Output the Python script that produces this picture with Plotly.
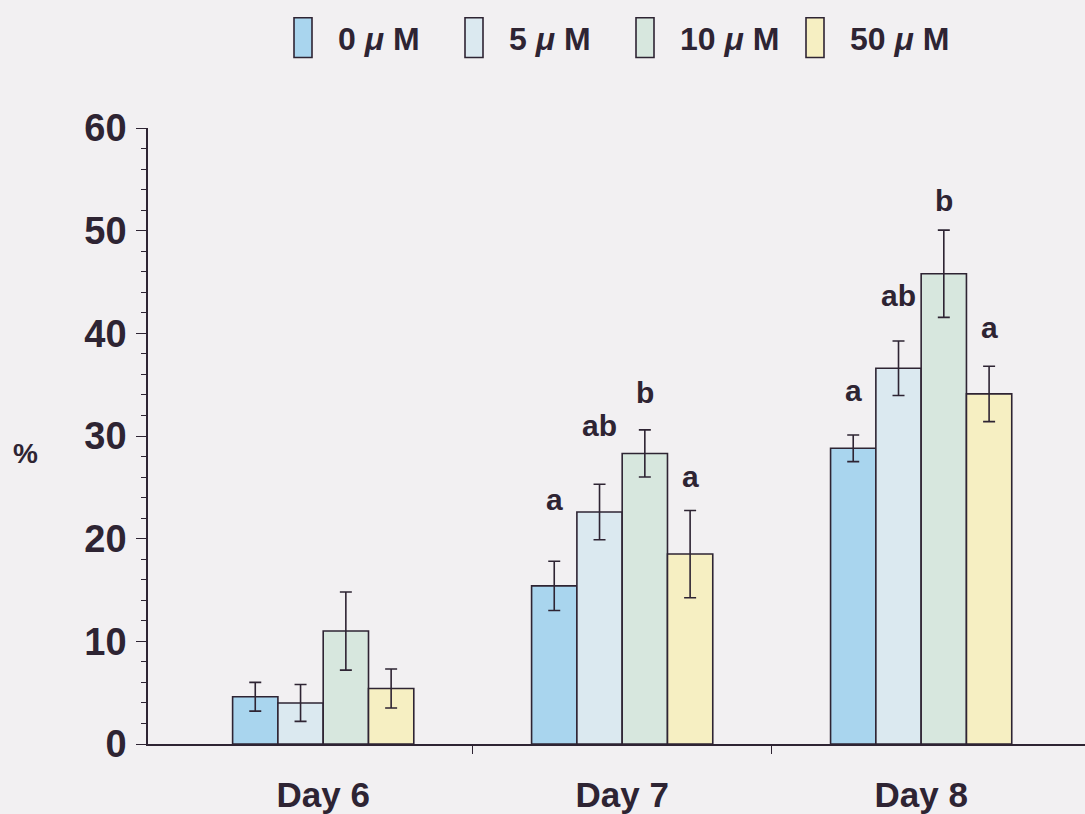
import plotly.graph_objects as go

# Germination-style percentages by day and concentration
days = ["Day 6", "Day 7", "Day 8"]
doses = ["0", "5", "10", "50"]

mean_0 = [4.6, 15.4, 28.8]
mean_5 = [4.0, 22.6, 36.6]
mean_10 = [11.0, 28.3, 45.8]
mean_50 = [5.4, 18.5, 34.1]

se_0 = [1.4, 2.4, 1.3]
se_5 = [1.8, 2.7, 2.65]
se_10 = [3.8, 2.3, 4.25]
se_50 = [1.9, 4.25, 2.7]

# significance letters (empty where none shown)
sig_0 = ["", "a", "a"]
sig_5 = ["", "ab", "ab"]
sig_10 = ["", "b", "b"]
sig_50 = ["", "a", "a"]

means = [mean_0, mean_5, mean_10, mean_50]
errs = [se_0, se_5, se_10, se_50]
sigs = [sig_0, sig_5, sig_10, sig_50]

fills = ["#a9d5ee", "#dbe9f0", "#d7e7de", "#f6efc2"]
ink = "#2e2433"
bg = "#f2f0f2"
sans = "Liberation Sans, Arial, sans-serif"

# layout geometry (pixels)
W, H = 1085, 814
L, R, T, B = 148, 0, 128, 66
pw, ph = W - L - R, H - T - B

bar_w = 0.1515
x_range = [-0.586, 2.548]

# vertical lift of each letter above its error bar (px), per dose then day
lift = [[0, 62, 44], [0, 59, 46], [0, 37, 30], [0, 34, 39]]

fig = go.Figure()
ann = []
for i, dose in enumerate(doses):
    xs = [d + (i - 1.5) * bar_w for d in range(len(days))]
    fig.add_trace(go.Bar(
        x=xs, y=means[i], width=bar_w,
        name=dose + " μM",
        marker=dict(color=fills[i], line=dict(color=ink, width=1.6)),
        error_y=dict(type="data", array=errs[i], color=ink,
                     thickness=1.6, width=6),
        showlegend=False,
    ))
    for j in range(len(days)):
        if sigs[i][j]:
            ann.append(dict(
                x=xs[j], y=means[i][j] + errs[i][j], xref="x", yref="y",
                text=sigs[i][j], showarrow=False, yanchor="middle",
                yshift=lift[i][j],
                font=dict(family=sans, size=30, color=ink, weight="bold"),
            ))


def px_x(p):
    return (p - L) / pw


def px_y(p):
    return (H - B - p) / ph


# hand-drawn legend: tall narrow swatches with labels
legend_box_left = [294, 465, 636, 806]
shapes = []
for i, dose in enumerate(doses):
    x0 = legend_box_left[i]
    shapes.append(dict(
        type="rect", xref="paper", yref="paper",
        x0=px_x(x0), x1=px_x(x0 + 18), y0=px_y(57), y1=px_y(17),
        fillcolor=fills[i], line=dict(color=ink, width=1.6),
    ))
    ann.append(dict(
        x=px_x(x0 + 42), y=px_y(38), xref="paper", yref="paper",
        xanchor="left", yanchor="middle", showarrow=False,
        text=dose + " <i>μ</i> M",
        font=dict(family=sans, size=32, color=ink, weight="bold"),
    ))

ann.append(dict(
    x=px_x(25), y=px_y(456), xref="paper", yref="paper",
    xanchor="center", yanchor="middle", showarrow=False, text="%",
    font=dict(family=sans, size=28, color=ink, weight="bold"),
))

fig.update_layout(
    width=W, height=H,
    margin=dict(l=L, r=R, t=T, b=B, pad=0),
    paper_bgcolor=bg, plot_bgcolor=bg,
    barmode="overlay",
    annotations=ann, shapes=shapes,
    font=dict(family=sans, color=ink),
)

fig.update_xaxes(
    range=x_range, showgrid=False, zeroline=False,
    showline=True, linecolor=ink, linewidth=1.6,
    tickmode="array", tickvals=list(range(len(days))), ticktext=days,
    ticks="",
    tickfont=dict(family=sans, size=35, color=ink, weight="bold"),
    ticklabelstandoff=19,
    minor=dict(tickmode="array", tickvals=[0.5, 1.5], ticks="outside",
               ticklen=8, tickwidth=1.4, tickcolor=ink, showgrid=False),
)

fig.update_yaxes(
    range=[0, 60], showgrid=False, zeroline=False,
    showline=True, linecolor=ink, linewidth=1.6,
    tickmode="array", tickvals=[0, 10, 20, 30, 40, 50, 60],
    ticks="outside", ticklen=10, tickwidth=1.4, tickcolor=ink,
    tickfont=dict(family=sans, size=38, color=ink, weight="bold"),
    ticklabelstandoff=2,
    minor=dict(dtick=2, ticks="outside", ticklen=5, tickwidth=1,
               tickcolor=ink, showgrid=False),
)

fig.write_html("out.html")
